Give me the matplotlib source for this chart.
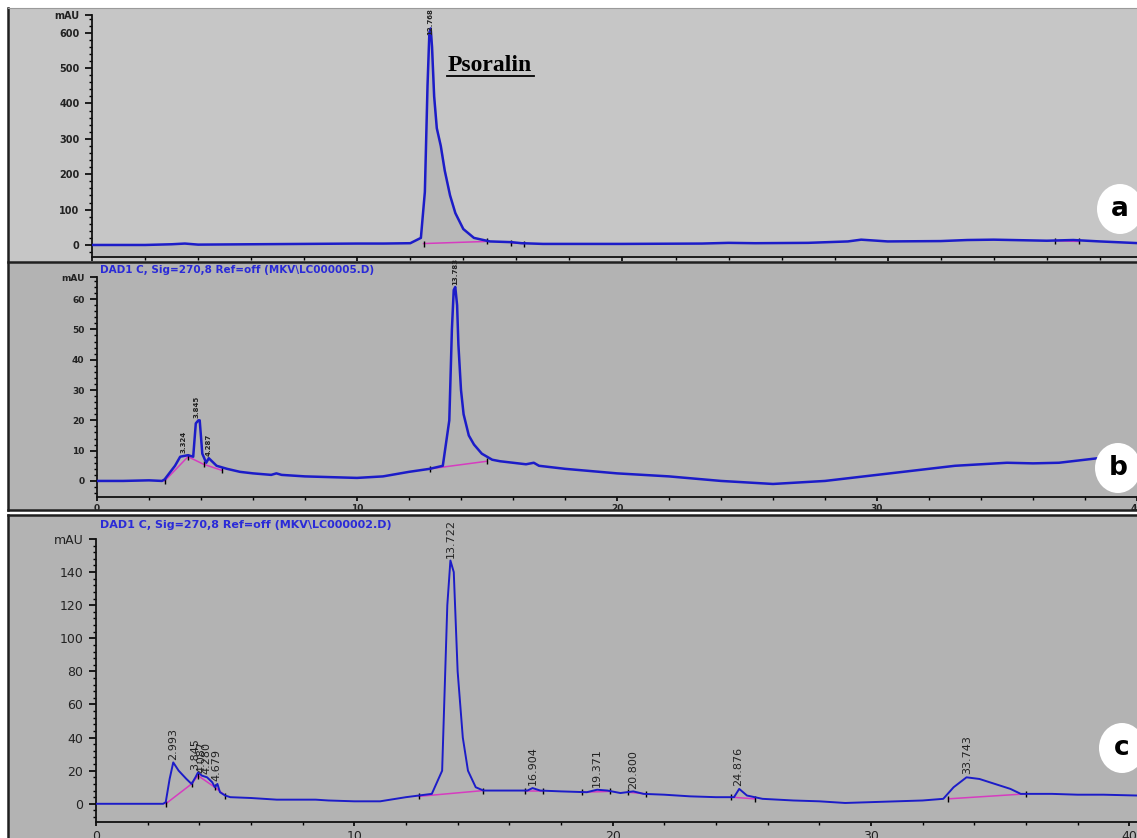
import matplotlib
matplotlib.use("Agg")
import matplotlib.pyplot as plt
from matplotlib.patches import Rectangle, Ellipse
from matplotlib.lines import Line2D
from matplotlib.ticker import MultipleLocator

W, H = 1137, 838

# ---- panel a : psoralin standard ----
a_time = [0, 2, 3, 3.5, 4, 6, 8, 10, 11, 12, 12.4, 12.55, 12.65, 12.72, 12.77, 12.82,
          12.9, 13.0, 13.15, 13.3, 13.5, 13.7, 14.0, 14.4, 15, 15.8, 16.2, 17, 20, 23,
          24, 25, 27, 28.5, 29, 30, 32, 33, 34, 36, 37, 38, 39.5]
a_mau = [0, 0, 2, 4, 1, 2, 3, 4, 4, 5, 20, 150, 450, 600, 612, 560,
         420, 330, 280, 210, 140, 90, 45, 20, 10, 8, 5, 3, 3, 4,
         6, 5, 6, 10, 15, 10, 11, 14, 15, 12, 14, 10, 5]
a_peaks = [12.768]
a_peak_h = [612]
a_base = [([12.5, 14.9], [4, 10]), ([15.8, 16.3], [6, 4]), ([36.3, 37.2], [12, 10])]

# ---- panel b ----
b_time = [0, 1, 2, 2.5, 2.6, 3.0, 3.2, 3.5, 3.7, 3.8, 3.9, 3.95, 4.05, 4.2, 4.3, 4.6,
          5, 5.5, 6, 6.7, 6.9, 7.1, 8, 10, 11, 12, 12.8, 13.3, 13.55, 13.65, 13.72,
          13.78, 13.85, 13.9, 14.0, 14.1, 14.3, 14.5, 14.8, 15.2, 15.5, 16.5, 16.8, 17,
          18, 20, 22, 24, 26, 28, 29, 30, 31, 32, 33, 34, 35, 36, 37, 38, 39, 40]
b_mau = [0, 0, 0.2, 0, 0.5, 5, 8, 8.5, 8, 19, 20, 20, 9, 6, 7.5, 5,
         4, 3, 2.5, 2, 2.5, 2, 1.5, 1, 1.5, 3, 4, 5, 20, 50, 63,
         64, 58, 45, 30, 22, 15, 12, 9, 7, 6.5, 5.5, 6, 5,
         4, 2.5, 1.5, 0, -1, 0, 1, 2, 3, 4, 5, 5.5, 6, 5.8, 6, 7, 8, 8.5]
b_peaks = [3.324, 3.845, 4.287, 13.783]
b_peak_h = [8.5, 20, 7.5, 64]
b_base = [([2.6, 3.5, 4.1, 4.8], [0, 8, 5.5, 3.5]), ([12.8, 15.0], [4, 6.5])]

# ---- panel c ----
c_time = [0, 2, 2.6, 2.7, 2.85, 2.99, 3.2, 3.5, 3.7, 3.85, 3.95, 4.1, 4.3, 4.5, 4.6,
          4.7, 4.8, 5.0, 5.2, 6, 7, 8, 8.5, 9, 10, 11, 12, 13, 13.4, 13.6, 13.72,
          13.85, 14.0, 14.2, 14.4, 14.7, 15, 16, 16.7, 16.9, 17.2, 18, 19, 19.4, 19.8,
          20.3, 20.8, 21.2, 22, 23, 24, 24.7, 24.9, 25.2, 25.8, 27, 28, 29, 30, 31, 32,
          32.8, 33.2, 33.7, 34.2, 34.8, 35.4, 35.8, 37, 38, 39, 40.3]
c_mau = [0, 0, 0, 1, 15, 25, 20, 15, 12, 16, 19, 17, 16, 13, 10,
         12, 7, 5, 4, 3.5, 2.5, 2.5, 2.5, 2, 1.5, 1.5, 4, 6, 20, 120, 147,
         140, 80, 40, 20, 10, 8, 8, 8, 9.5, 8, 7.5, 7, 8.5, 8,
         6.5, 7.5, 6, 5.5, 4.5, 4, 4, 9, 5, 3, 2, 1.5, 0.5, 1, 1.5, 2,
         3, 10, 16, 15, 12, 9, 6, 6, 5.5, 5.5, 5]
c_peaks = [2.993, 3.845, 4.087, 4.280, 4.679, 13.722, 16.904, 19.371, 20.800, 24.876, 33.743]
c_peak_h = [25, 19, 17, 16, 12, 147, 9.5, 8.5, 7.5, 9, 16]
c_base = [([2.7, 3.7, 3.95, 4.6, 5.0], [0, 12, 17, 10, 5]), ([12.5, 15.0], [4.5, 8]),
          ([16.6, 17.3], [8, 8]), ([18.8, 19.9], [7, 7.5]), ([20.6, 21.3], [7, 6]),
          ([24.6, 25.5], [4, 3]), ([33.0, 36.0], [3, 6])]

BLUE = "#1c1cc8"
PINK = "#d63cc0"


def fig_rect(l, t, r, b):
    return [l / W, 1 - b / H, (r - l) / W, (b - t) / H]


fig = plt.figure(figsize=(W / 100, H / 100), dpi=100)

# panel backgrounds and frames
for (t, b, col) in [(8, 262, "#c6c6c6"), (262, 510, "#b3b3b3"), (515, 838, "#b3b3b3")]:
    fig.patches.append(Rectangle((8 / W, 1 - b / H), (W - 8) / W, (b - t) / H,
                                 transform=fig.transFigure, facecolor=col,
                                 edgecolor="none", zorder=-5))
for (x0, y0, x1, y1) in [(8, 8, 8, 510), (8, 515, 8, 838), (8, 262, W, 262),
                         (8, 510, W, 510), (8, 515, W, 515)]:
    fig.add_artist(Line2D([x0 / W, x1 / W], [1 - y0 / H, 1 - y1 / H], color="#202020",
                          lw=1.8, transform=fig.transFigure, zorder=-1))
fig.add_artist(Line2D([8 / W, 1], [1 - 8 / H, 1 - 8 / H], color="#9a9a9a", lw=0.8,
                      transform=fig.transFigure, zorder=-1))


def setup(ax, xmax, ylo, yhi, ymin, yticks, fs, xlabels, weight="bold"):
    ax.set_facecolor("none")
    ax.set_xlim(0, xmax)
    ax.set_ylim(ylo, yhi)
    for s in ["top", "right"]:
        ax.spines[s].set_visible(False)
    for s in ["left", "bottom"]:
        ax.spines[s].set_linewidth(1.3)
        ax.spines[s].set_color("#111111")
    ax.set_yticks(list(yticks) + [yhi])
    ax.set_yticklabels([str(v) for v in yticks] + ["mAU"], fontsize=fs,
                       fontweight=weight, color="#222222")
    ax.yaxis.set_minor_locator(MultipleLocator(ymin))
    ax.xaxis.set_major_locator(MultipleLocator(10))
    ax.xaxis.set_minor_locator(MultipleLocator(2))
    ax.tick_params(axis="y", which="major", length=5, width=1.2, pad=4)
    ax.tick_params(axis="y", which="minor", length=2.5, width=1)
    ax.tick_params(axis="x", which="major", length=3, width=1.2, pad=2)
    ax.tick_params(axis="x", which="minor", length=2, width=1)
    if xlabels:
        ticks = [v for v in range(0, 50, 10)]
        ax.set_xticks(ticks)
        ax.set_xticklabels([str(v) for v in ticks], fontsize=fs,
                           fontweight=weight, color="#222222")
        ax.set_xlim(0, xmax)
    else:
        ax.set_xticklabels([])


def draw(ax, t, v, base, peaks, heights, fs, lw, bold, shift=0.0):
    for bt, bv in base:
        ax.plot(bt, bv, color=PINK, lw=1.1, zorder=2)
        ax.plot(bt, bv, ls="none", marker="|", ms=4, mew=1, color="black", zorder=2)
    ax.plot(t, v, color=BLUE, lw=lw, zorder=3)
    off = (ax.get_ylim()[1] - ax.get_ylim()[0]) * 0.01
    for p, h in zip(peaks, heights):
        ax.text(p, h + off + shift, f"{p:.3f}", rotation=90, ha="center", va="bottom",
                fontsize=fs, color="#222222", fontweight="bold" if bold else "normal")


# panel a
ax_a = fig.add_axes(fig_rect(92, 15, W, 257))
setup(ax_a, 39.4, -34, 650, 20, range(0, 700, 100), 7, False)
ax_a.fill_between(a_time, a_mau, -34, color="#b8b8b8", zorder=1)
draw(ax_a, a_time, a_mau, a_base, a_peaks, a_peak_h, 5, 1.8, True, shift=-25)
ax_a.text(13.4, 508, "Psoralin", fontsize=17, fontweight="bold",
          family="Liberation Serif", color="black", ha="left", va="center")
ax_a.plot([13.4, 16.65], [478, 478], color="black", lw=1.3)

# panel b
ax_b = fig.add_axes(fig_rect(97, 277, W, 497))
setup(ax_b, 40.0, -5.3, 67.3, 2, range(0, 70, 10), 6.5, True)
draw(ax_b, b_time, b_mau, b_base, b_peaks, b_peak_h, 5, 1.8, True)
fig.text(100 / W, 1 - 265 / H, r"DAD1 C, Sig=270,8 Ref=off (MKV\LC000005.D)",
         fontsize=7.5, fontweight="bold", color="#2a2ad8", va="top", ha="left")

# panel c
ax_c = fig.add_axes(fig_rect(96, 539, W, 822))
setup(ax_c, 40.3, -11, 160, 4, range(0, 160, 20), 9, True, weight="normal")
ax_c.tick_params(axis="x", which="major", pad=3)
draw(ax_c, c_time, c_mau, c_base, c_peaks, c_peak_h, 8, 1.4, False)
fig.text(100 / W, 1 - 520 / H, r"DAD1 C, Sig=270,8 Ref=off (MKV\LC000002.D)",
         fontsize=8, fontweight="bold", color="#2a2ad8", va="top", ha="left")

# panel letters
for (cx, cy, lab) in [(1120, 209, "a"), (1118, 468, "b"), (1122, 748, "c")]:
    fig.patches.append(Ellipse((cx / W, 1 - cy / H), 46 / W, 50 / H,
                               transform=fig.transFigure, facecolor="white",
                               edgecolor="none", zorder=5))
    fig.text(cx / W, 1 - cy / H, lab, fontsize=19, fontweight="bold",
             ha="center", va="center", color="black", zorder=6)

fig.savefig("out.png", dpi=100)
